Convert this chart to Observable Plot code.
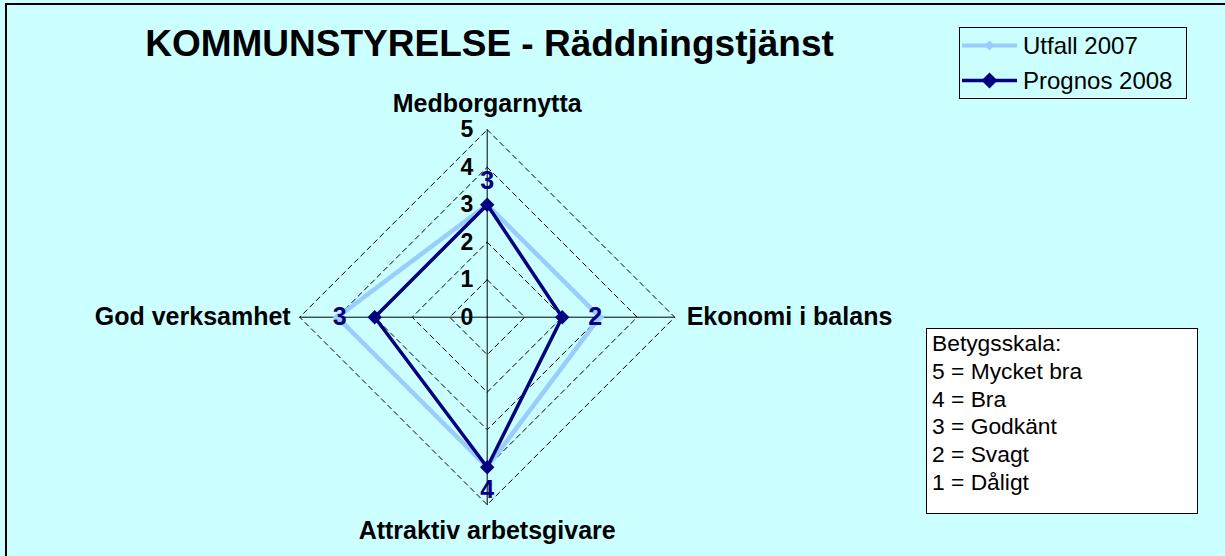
<!DOCTYPE html>
<html>
<head>
<meta charset="utf-8">
<script src="https://cdn.jsdelivr.net/npm/d3@7"></script>
<script src="https://cdn.jsdelivr.net/npm/@observablehq/plot@0.6"></script>
<style>
  html, body { margin: 0; padding: 0; background: #CCFFFF; overflow: hidden; }
  #wrap { position: relative; width: 1225px; height: 556px; overflow: hidden; background: #CCFFFF;
          font-family: "Liberation Sans", Arial, sans-serif; }
  #frame { position: absolute; left: 5px; top: 3px; width: 1400px; height: 700px;
           border-left: 2px solid #000; border-top: 2px solid #000; pointer-events: none; }
  #title { position: absolute; left: 0; top: 25px; width: 979px; text-align: center;
           font-size: 37px; line-height: 37px; font-weight: bold; color: #000; }
  #legend { position: absolute; left: 959px; top: 27px; width: 228px; height: 72px; box-sizing: border-box;
            border: 1px solid #000; background: #CCFFFF; padding: 0 0 0 2px; }
  .lrow { display: flex; align-items: center; height: 35px; font-size: 24px; line-height: 35px; }
  .lrow svg { flex: none; margin-right: 5px; }
  #scale { position: absolute; left: 926px; top: 328px; width: 272px; height: 186px; box-sizing: border-box;
           border: 1px solid #000; background: #fff; padding: 1px 0 0 5px; font-size: 22.8px; line-height: 27.8px; }
  #chart { position: absolute; left: 0; top: 0; }
</style>
</head>
<body>
<div id="wrap">
  <div id="chart"></div>
  <div id="frame"></div>
  <div id="title"></div>
  <div id="legend"></div>
  <div id="scale"></div>
</div>
<script>
// ---- data ----
const axesNames = ["Medborgarnytta", "Ekonomi i balans", "Attraktiv arbetsgivare", "God verksamhet"];
const utfall2007 = [3, 3, 4, 4];
const prognos2008 = [3, 2, 4, 3];
const seriesNames = ["Utfall 2007", "Prognos 2008"];
const seriesColors = ["#99CCFF", "#000080"];
const levels = [1, 2, 3, 4, 5];
const tickLabels = ["0", "1", "2", "3", "4", "5"];
const titleText = "KOMMUNSTYRELSE - Räddningstjänst";
const scaleLines = ["Betygsskala:", "5 = Mycket bra", "4 = Bra", "3 = Godkänt", "2 = Svagt", "1 = Dåligt"];
const maxValue = 5;

// ---- geometry helpers (clockwise from top) ----
const n = axesNames.length;
const ang = i => (i * 2 * Math.PI) / n;
const px = (i, r) => r * Math.sin(ang(i));
const py = (i, r) => r * Math.cos(ang(i));

// grid rings (closed)
const grid = [];
for (const L of levels) for (let k = 0; k <= n; k++) grid.push({level: L, x: px(k % n, L), y: py(k % n, L)});
// spokes
const spokes = [];
axesNames.forEach((name, i) => { spokes.push({i, x: 0, y: 0}); spokes.push({i, x: px(i, maxValue), y: py(i, maxValue)}); });
// series polygons
function poly(vals, s) {
  const pts = [];
  for (let k = 0; k <= n; k++) { const i = k % n; pts.push({s, i, v: vals[i], x: px(i, vals[i]), y: py(i, vals[i])}); }
  return pts;
}
const utfPts = poly(utfall2007, seriesNames[0]);
const proPts = poly(prognos2008, seriesNames[1]);
const ticks = tickLabels.map(t => ({t, y: +t}));

// axis label offsets (pixels) by direction
const axisOffsets = [
  {dx: 0, dy: -26, anchor: "middle"},
  {dx: 12, dy: 0, anchor: "start"},
  {dx: 0, dy: 26, anchor: "middle"},
  {dx: -9, dy: 0, anchor: "end"}
];
const dataLabelOffsets = [
  {dx: 0, dy: -24}, {dx: 33, dy: 0}, {dx: 0, dy: 23}, {dx: -35, dy: 0}
];

const marks = [
  Plot.line(grid, {x: "x", y: "y", z: "level", stroke: "#000", strokeWidth: 1, strokeDasharray: "5,4"}),
  Plot.line(spokes, {x: "x", y: "y", z: "i", stroke: "#000", strokeWidth: 1}),
  Plot.line(utfPts, {x: "x", y: "y", stroke: seriesColors[0], strokeWidth: 4.5}),
  Plot.dot(utfPts.slice(0, n), {x: "x", y: "y", symbol: "diamond2", r: 4, fill: seriesColors[0], stroke: null}),
  Plot.line(proPts, {x: "x", y: "y", stroke: seriesColors[1], strokeWidth: 3.5}),
  Plot.dot(proPts.slice(0, n), {x: "x", y: "y", symbol: "diamond2", r: 6.5, fill: seriesColors[1], stroke: null}),
  Plot.text(ticks, {x: 0, y: "y", text: "t", dx: -14, textAnchor: "end", fontSize: 23, fontWeight: "bold", fill: "#000"}),
  ...axesNames.map((name, i) => Plot.text([name], {
    x: () => px(i, maxValue), y: () => py(i, maxValue), text: d => d,
    dx: axisOffsets[i].dx, dy: axisOffsets[i].dy, textAnchor: axisOffsets[i].anchor,
    fontSize: 25, fontWeight: "bold", fill: "#000"
  })),
  ...prognos2008.map((v, i) => Plot.text([v], {
    x: () => px(i, v), y: () => py(i, v), text: d => String(d),
    dx: dataLabelOffsets[i].dx, dy: dataLabelOffsets[i].dy,
    fontSize: 25, fontWeight: "bold", fill: seriesColors[1]
  }))
];

const chart = Plot.plot({
  width: 1225,
  height: 556,
  marginLeft: 299.2,
  marginRight: 550.8,
  marginTop: 129.2,
  marginBottom: 51.8,
  x: {domain: [-maxValue, maxValue], axis: null},
  y: {domain: [-maxValue, maxValue], axis: null},
  style: {background: "transparent", fontFamily: "'Liberation Sans', Arial, sans-serif", overflow: "visible"},
  marks
});
document.getElementById("chart").appendChild(chart);

// title
document.getElementById("title").textContent = titleText;

// legend
const legend = d3.select("#legend");
seriesNames.forEach((name, k) => {
  const row = legend.append("div").attr("class", "lrow");
  const svg = row.append("svg").attr("width", 56).attr("height", 35);
  svg.append("line").attr("x1", 0).attr("x2", 55).attr("y1", 17.5).attr("y2", 17.5)
    .attr("stroke", seriesColors[k]).attr("stroke-width", k === 0 ? 4 : 3.5);
  const s = k === 0 ? 5 : 8;
  svg.append("path").attr("d", `M27.5,${17.5 - s}L${27.5 + s},17.5L27.5,${17.5 + s}L${27.5 - s},17.5Z`)
    .attr("fill", seriesColors[k]);
  row.append("span").text(name);
});

// scale box
const sc = d3.select("#scale");
scaleLines.forEach(t => sc.append("div").text(t));
</script>
</body>
</html>
